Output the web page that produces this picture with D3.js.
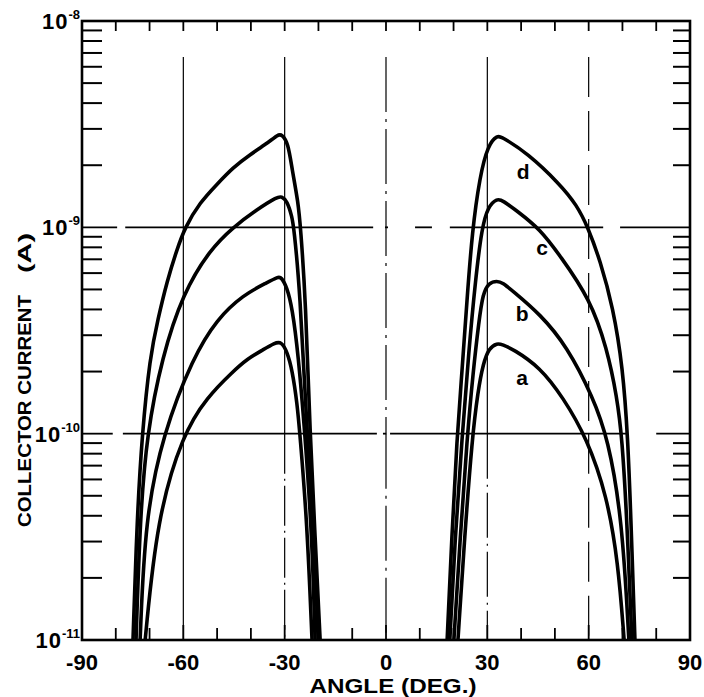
<!DOCTYPE html>
<html><head><meta charset="utf-8">
<script src="https://cdn.jsdelivr.net/npm/d3@7"></script>
<style>body{margin:0;background:#fff}svg{display:block}</style>
</head><body>
<svg id="c" width="704" height="697"></svg>
<script>
// ---- data (angle in degrees, collector current in A) ----
const dLeft = [[-74.9,1e-11],[-73.7,3.9e-11],[-72.2,1.0e-10],[-69.9,2.35e-10],[-67.5,3.6e-10],[-64.8,5.5e-10],[-61.9,7.8e-10],[-59.5,1.0e-9],[-55.1,1.32e-9],[-50.0,1.62e-9],[-45.3,1.95e-9],[-40.3,2.25e-9],[-35.2,2.55e-9],[-32.0,2.82e-9],[-30.8,2.82e-9],[-29.0,2.57e-9],[-27.8,1.91e-9],[-26.0,1.32e-9],[-25.3,1.0e-9],[-23.8,4.5e-10],[-22.5,1.0e-10],[-21.0,3.2e-11],[-19.5,1e-11]];
const cLeft = [[-74.0,1e-11],[-72.8,3.9e-11],[-70.8,1.0e-10],[-66.3,2.35e-10],[-60.1,4.8e-10],[-52.1,7.8e-10],[-45.3,1.0e-9],[-38.2,1.22e-9],[-32.0,1.41e-9],[-31.0,1.41e-9],[-29.3,1.35e-9],[-27.8,1.12e-9],[-27.3,1.0e-9],[-25.5,5.1e-10],[-23.4,1.0e-10],[-21.0,2.6e-11],[-20.1,1e-11]];
const bLeft = [[-72.8,1e-11],[-71.3,3.9e-11],[-66.0,1.0e-10],[-57.1,2.35e-10],[-50.0,3.6e-10],[-42.3,4.7e-10],[-35.2,5.4e-10],[-32.0,5.75e-10],[-31.0,5.75e-10],[-29.3,5.1e-10],[-27.8,4.1e-10],[-26.0,2.45e-10],[-24.0,1.0e-10],[-21.9,3.2e-11],[-21.0,1e-11]];
const aLeft = [[-71.3,1e-11],[-67.8,3.9e-11],[-60.1,1.0e-10],[-53.0,1.5e-10],[-45.3,2.0e-10],[-41.1,2.3e-10],[-36.4,2.55e-10],[-33.0,2.75e-10],[-31.0,2.8e-10],[-29.3,2.5e-10],[-27.8,2.05e-10],[-26.3,1.4e-10],[-25.5,1.0e-10],[-23.4,3.8e-11],[-21.9,1e-11]];
const dRight = [[18.1,1e-11],[19.5,3.2e-11],[21.0,9.5e-11],[22.5,2.0e-10],[24.0,4.5e-10],[25.5,9.5e-10],[27.8,1.78e-9],[30.2,2.5e-9],[32.9,2.8e-9],[34.6,2.72e-9],[41.7,2.3e-9],[51.5,1.62e-9],[56.5,1.28e-9],[59.8,1.0e-9],[63.4,6.9e-10],[67.2,4.1e-10],[70.1,2.1e-10],[71.6,9.5e-11],[72.5,3.9e-11],[73.7,1e-11]];
const cRight = [[18.9,1e-11],[20.5,3.2e-11],[22.5,9.5e-11],[24.5,2.5e-10],[26.5,5.6e-10],[28.4,1.0e-9],[30.2,1.26e-9],[32.9,1.38e-9],[34.5,1.35e-9],[38.8,1.2e-9],[45.6,9.8e-10],[51.5,7.3e-10],[60.4,4.5e-10],[65.4,2.6e-10],[68.4,1.5e-10],[69.9,9.5e-11],[71.3,3.9e-11],[72.8,1e-11]];
const bRight = [[20.1,1e-11],[22.0,3.2e-11],[24.0,9.5e-11],[25.8,2.0e-10],[27.5,3.5e-10],[28.7,4.8e-10],[30.5,5.4e-10],[32.9,5.5e-10],[34.5,5.4e-10],[37.6,4.9e-10],[45.6,3.8e-10],[53.6,2.65e-10],[61.3,1.5e-10],[65.7,9.5e-11],[69.9,3.9e-11],[71.9,1e-11]];
const aRight = [[21.3,1e-11],[23.3,3.2e-11],[25.5,9.5e-11],[27.2,1.6e-10],[28.8,2.2e-10],[30.5,2.6e-10],[32.9,2.75e-10],[34.5,2.7e-10],[37.6,2.57e-10],[45.6,2.1e-10],[52.4,1.5e-10],[59.5,9.5e-11],[65.4,5.0e-11],[68.7,2.4e-11],[70.5,1e-11]];
const curves = [dLeft,cLeft,bLeft,aLeft,dRight,cRight,bRight,aRight];
const curveLabels = ["d","c","b","a"];
const curveLabelPos = [[40.6,1.86e-9],[46.2,7.9e-10],[40.3,3.8e-10],[40.3,1.87e-10]];
const xTicks = [-90,-60,-30,0,30,60,90];
const yDecades = [1e-11,1e-10,1e-9,1e-8];
const yTickExps = ["-11","-10","-9","-8"];
// grid line segments (angle ranges) at the two horizontal reference levels
const hGrid1e9 = [[-89.7,-79.6],[-77.2,-3.8],[-0.3,0.6],[8.6,13.6],[18.9,64.3],[69.3,90]];
const hGrid1e10 = [[-90,-80.9],[-77.9,-2.7],[-0.9,0.1],[1.2,71.3],[80,90]];
const vGrid = [-60,-30,0,30,60];

const svg = d3.select("#c");
const L=82,R=690,T=21,B=640;
const x = d3.scaleLinear().domain([-90,90]).range([L,R]);
const y = d3.scaleLog().domain([1e-11,1e-8]).range([B,T]);
const font = "'Liberation Sans', Arial, Helvetica, sans-serif";
svg.append("rect").attr("width",704).attr("height",697).attr("fill","#fff");

// vertical grid lines: solid upper part, patterned lower part
const vStyle = {"-60":[null,null],"-30":[null,"40 5 2 5"],"0":["55 7 3 7","55 7 3 7"],"30":[null,"45 6 2 6"],"60":["40 14","40 14"]};
vGrid.forEach(v=>{
  const st = vStyle[v];
  const g1 = svg.append("line").attr("x1",x(v)).attr("x2",x(v))
    .attr("y1",y(6.7e-9)).attr("y2",y(1e-10)).attr("stroke","#000").attr("stroke-width",1.2);
  if(st[0]) g1.attr("stroke-dasharray",st[0]);
  const g2 = svg.append("line").attr("x1",x(v)).attr("x2",x(v))
    .attr("y1",y(1e-10)).attr("y2",B).attr("stroke","#000").attr("stroke-width",1.2);
  if(st[1]) g2.attr("stroke-dasharray",st[1]);
});
// horizontal grid segments
[[1e-9,hGrid1e9],[1e-10,hGrid1e10]].forEach(([lv,segs])=>{
  segs.forEach(s=>svg.append("line").attr("x1",x(s[0])).attr("x2",x(s[1]))
    .attr("y1",y(lv)).attr("y2",y(lv)).attr("stroke","#000").attr("stroke-width",1.8));
});

// minor ticks on log axis
const minor=[];
[1e-11,1e-10,1e-9].forEach(d=>{for(let k=2;k<=9;k++) minor.push(d*k);});
minor.forEach(v=>{
  svg.append("line").attr("x1",L).attr("x2",L+20).attr("y1",y(v)).attr("y2",y(v)).attr("stroke","#000").attr("stroke-width",2);
  svg.append("line").attr("x1",R-17).attr("x2",R).attr("y1",y(v)).attr("y2",y(v)).attr("stroke","#000").attr("stroke-width",2);
});
// angle ticks every 10 degrees
d3.range(-80,90,10).forEach(a=>{
  svg.append("line").attr("x1",x(a)).attr("x2",x(a)).attr("y1",T).attr("y2",T+10).attr("stroke","#000").attr("stroke-width",1.8);
  svg.append("line").attr("x1",x(a)).attr("x2",x(a)).attr("y1",B).attr("y2",B-(a%30===0?15:12)).attr("stroke","#000").attr("stroke-width",1.8);
});

// frame
svg.append("rect").attr("x",L).attr("y",T).attr("width",R-L).attr("height",B-T)
  .attr("fill","none").attr("stroke","#000").attr("stroke-width",2.6);

// curves
const line = d3.line().x(d=>x(d[0])).y(d=>y(d[1])).curve(d3.curveBasis);
curves.forEach(c=>svg.append("path").attr("d",line(c)).attr("fill","none")
  .attr("stroke","#000").attr("stroke-width",3.6).attr("stroke-linejoin","round"));

// curve labels
curveLabels.forEach((t,i)=>svg.append("text").attr("x",x(curveLabelPos[i][0])).attr("y",y(curveLabelPos[i][1])+7)
  .attr("text-anchor","middle").attr("font-family",font).attr("font-weight","bold").attr("font-size",21).text(t));

// x tick labels
xTicks.forEach(v=>svg.append("text").attr("x",x(v)).attr("y",670).attr("text-anchor","middle")
  .attr("font-family",font).attr("font-weight","bold").attr("font-size",22).text(v));

// y tick labels
yDecades.forEach((v,i)=>{
  const t = svg.append("text").attr("x",80).attr("y",y(v)+8).attr("text-anchor","end")
    .attr("font-family",font).attr("font-weight","bold").attr("font-size",22);
  t.append("tspan").attr("letter-spacing",1).text("10");
  t.append("tspan").attr("dy",-10).attr("font-size",13).text(yTickExps[i]);
});

// axis titles
svg.append("text").attr("x",393).attr("y",693).attr("text-anchor","middle")
  .attr("font-family",font).attr("font-weight","bold").attr("font-size",20)
  .attr("textLength",167).attr("lengthAdjust","spacingAndGlyphs").text("ANGLE (DEG.)");
svg.append("text").attr("transform","translate(31,411) rotate(-90)").attr("text-anchor","middle")
  .attr("font-family",font).attr("font-weight","bold").attr("font-size",18)
  .attr("textLength",232).attr("lengthAdjust","spacingAndGlyphs").text("COLLECTOR CURRENT");
svg.append("text").attr("transform","translate(31,253) rotate(-90)").attr("text-anchor","middle")
  .attr("font-family",font).attr("font-weight","bold").attr("font-size",18)
  .attr("textLength",40).attr("lengthAdjust","spacingAndGlyphs").text("(A)");
</script>
</body></html>
